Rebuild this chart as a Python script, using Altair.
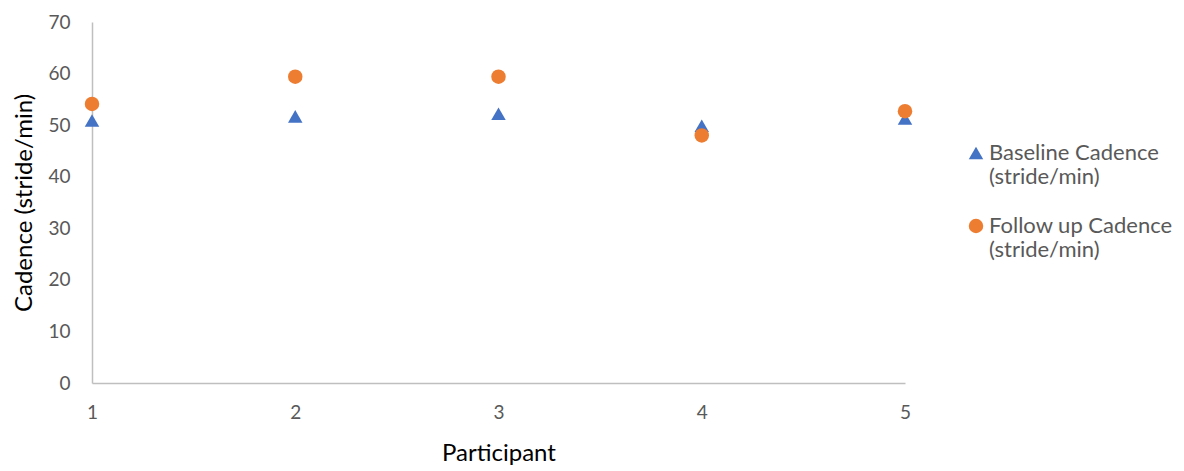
import altair as alt
import pandas as pd

# Cadence per participant, baseline vs follow-up
participants = [1, 2, 3, 4, 5]
baseline = [50.9, 51.7, 52.2, 49.9, 51.3]
follow_up = [54.1, 59.4, 59.4, 48.0, 52.7]

series_names = ["Baseline Cadence\n(stride/min)", "Follow up Cadence\n(stride/min)"]

rows = []
for p, b, f in zip(participants, baseline, follow_up):
    rows.append({"Participant": p, "Series": series_names[0], "Cadence": b})
    rows.append({"Participant": p, "Series": series_names[1], "Cadence": f})
df = pd.DataFrame(rows)

FONT = "Lato"
GREY_TEXT = "#595959"

# two-line legend labels
label_expr = "split(datum.label, '\\n')"

color_legend = alt.Legend(
    title=None,
    orient="none",
    legendX=873,
    legendY=120,
    labelExpr=label_expr,
    labelFont=FONT,
    labelFontSize=22,
    labelColor=GREY_TEXT,
    labelLimit=300,
    labelBaseline="middle",
    labelOffset=2,
    symbolSize=210,
    symbolOffset=0,
    rowPadding=27,
)

chart = (
    alt.Chart(df)
    .mark_point(filled=True, opacity=1, size=210)
    .encode(
        x=alt.X(
            "Participant:Q",
            scale=alt.Scale(domain=[1, 5], nice=False, zero=False),
            axis=alt.Axis(
                title="Participant",
                values=participants,
                format="d",
                grid=False,
                ticks=False,
                domainColor="#BFBFBF",
                domainWidth=1.5,
                labelFlush=False,
                labelPadding=20,
                labelFontSize=19,
                labelColor=GREY_TEXT,
                labelFont=FONT,
                titleFont=FONT,
                titleFontSize=24,
                titleFontWeight="normal",
                titleColor="#000000",
                titlePadding=19,
            ),
        ),
        y=alt.Y(
            "Cadence:Q",
            scale=alt.Scale(domain=[0, 70], nice=False),
            axis=alt.Axis(
                title="Cadence (stride/min)",
                values=[0, 10, 20, 30, 40, 50, 60, 70],
                grid=False,
                ticks=False,
                domainColor="#BFBFBF",
                domainWidth=1.5,
                labelPadding=22,
                labelFontSize=19,
                labelColor=GREY_TEXT,
                labelFont=FONT,
                titleFont=FONT,
                titleFontSize=24,
                titleFontWeight="normal",
                titleColor="#000000",
                titlePadding=11,
            ),
        ),
        color=alt.Color(
            "Series:N",
            scale=alt.Scale(domain=series_names, range=["#4472C4", "#ED7D31"]),
            legend=color_legend,
        ),
        shape=alt.Shape(
            "Series:N",
            scale=alt.Scale(domain=series_names, range=["triangle-up", "circle"]),
            legend=alt.Legend(title=None),
        ),
    )
    .properties(
        width=813,
        height=361,
        background="white",
        autosize=alt.AutoSizeParams(type="none"),
        padding={"left": 92, "top": 22, "right": 279, "bottom": 88},
    )
    .configure_view(strokeWidth=0)
)

chart.save("out.html", embed_options={"renderer": "svg", "actions": False})
